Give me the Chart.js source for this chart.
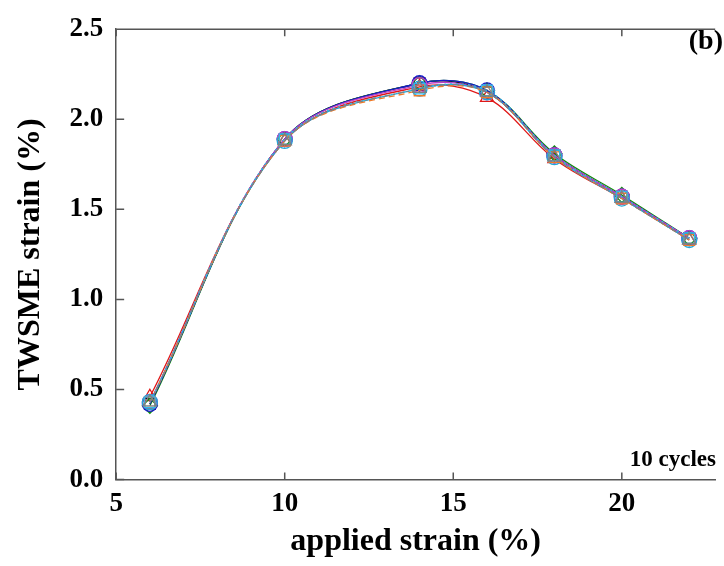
<!DOCTYPE html>
<html>
<head>
<meta charset="utf-8">
<script src="https://cdn.jsdelivr.net/npm/chart.js@4.4.1/dist/chart.umd.min.js"></script>
<style>
  body { margin: 0; background: #fff; }
  #wrap { width: 724px; height: 566px; }
</style>
</head>
<body>
<div id="wrap"><canvas id="chartTwsme" width="724" height="566"></canvas></div>
<script>
// applied strain (%) on x, TWSME strain (%) per sample
var appliedStrain = [6, 10, 14, 16, 18, 20, 22];
var twsmeGray    = [0.43, 1.88, 2.17, 2.15, 1.79, 1.56, 1.33];
var twsmeCyanSq  = [0.43, 1.89, 2.17, 2.16, 1.80, 1.57, 1.34];
var twsmeOrange  = [0.43, 1.88, 2.16, 2.15, 1.79, 1.56, 1.33];
var twsmeCyan    = [0.43, 1.88, 2.17, 2.15, 1.79, 1.56, 1.33];
var twsmeMagenta = [0.43, 1.89, 2.19, 2.15, 1.80, 1.57, 1.34];
var twsmeBlue    = [0.42, 1.89, 2.20, 2.16, 1.80, 1.57, 1.34];
var twsmeGreen   = [0.41, 1.89, 2.20, 2.16, 1.81, 1.58, 1.34];
var twsmeRed     = [0.46, 1.88, 2.18, 2.12, 1.78, 1.56, 1.33];
var twsmeBlack   = [0.42, 1.89, 2.20, 2.15, 1.80, 1.57, 1.34];
var xTicks = [5, 10, 15, 20];
var yTicks = [0, 0.5, 1.0, 1.5, 2.0, 2.5];

function pts(ys) {
  return appliedStrain.map(function (x, i) { return { x: x, y: ys[i] }; });
}

function series(ys, color, style, dash) {
  return {
    data: pts(ys),
    borderColor: color,
    pointBorderColor: color,
    backgroundColor: 'rgba(0,0,0,0)',
    pointBackgroundColor: 'rgba(0,0,0,0)',
    pointStyle: style,
    pointRadius: 7.5,
    pointBorderWidth: 1.3,
    borderWidth: 1.3,
    borderDash: dash || [],
    tension: 0.35,
    fill: false
  };
}

var serif = "'Liberation Serif', 'Times New Roman', serif";

// frame, inward ticks and in-plot labels
var framePlugin = {
  id: 'frame',
  afterDraw: function (chart) {
    var c = chart.ctx, a = chart.chartArea;
    var xs = chart.scales.x, ys = chart.scales.y;
    c.save();
    c.strokeStyle = '#555';
    c.lineWidth = 1.5;
    c.beginPath();
    c.moveTo(a.left, a.top);
    c.lineTo(a.right, a.top);
    xTicks.forEach(function (v) {
      var px = xs.getPixelForValue(v);
      c.moveTo(px, a.bottom); c.lineTo(px, a.bottom - 7);
      c.moveTo(px, a.top); c.lineTo(px, a.top + 7);
    });
    yTicks.forEach(function (v) {
      var py = ys.getPixelForValue(v);
      c.moveTo(a.left, py); c.lineTo(a.left + 8, py);
    });
    c.stroke();
    c.fillStyle = '#000';
    c.textAlign = 'right';
    c.textBaseline = 'middle';
    c.font = 'bold 28px ' + serif;
    c.fillText('(b)', 723, 42);
    c.font = 'bold 23px ' + serif;
    c.fillText('10 cycles', 716, 460);
    c.restore();
  }
};

var ctx = document.getElementById('chartTwsme').getContext('2d');
var chartTwsme = new Chart(ctx, {
  type: 'line',
  data: {
    datasets: [
      series(twsmeGray, '#808080', 'triangle', [6, 3, 2, 3]),
      series(twsmeCyanSq, '#35b6e8', 'rect', [2, 4]),
      series(twsmeOrange, '#f07a28', 'rect', [6, 4]),
      series(twsmeCyan, '#20a8d8', 'circle'),
      series(twsmeMagenta, '#c040c8', 'circle'),
      series(twsmeBlue, '#1a1acc', 'circle'),
      series(twsmeGreen, '#108a10', 'rectRot'),
      series(twsmeRed, '#e01818', 'triangle'),
      series(twsmeBlack, '#000000', 'rect')
    ]
  },
  options: {
    responsive: false,
    animation: false,
    events: [],
    layout: { padding: { left: 12, top: 16, right: 0, bottom: 4.6 } },
    plugins: { legend: { display: false }, tooltip: { enabled: false } },
    scales: {
      x: {
        type: 'linear',
        min: 5,
        max: 22.77,
        grid: { display: false, drawTicks: false },
        border: { display: true, color: '#555', width: 1.5 },
        ticks: {
          stepSize: 5,
          includeBounds: false,
          padding: 8,
          color: '#000',
          font: { family: serif, size: 27, weight: 'bold' }
        },
        title: {
          display: true,
          text: 'applied strain (%)',
          color: '#000',
          padding: { top: -5, bottom: 0 },
          font: { family: serif, size: 32, weight: 'bold' }
        }
      },
      y: {
        min: 0,
        max: 2.5,
        grid: { display: false, drawTicks: false },
        border: { display: true, color: '#555', width: 1.5 },
        ticks: {
          stepSize: 0.5,
          padding: 13,
          color: '#000',
          font: { family: serif, size: 27, weight: 'bold' },
          callback: function (v) { return v.toFixed(1); }
        },
        title: {
          display: true,
          text: 'TWSME strain (%)',
          color: '#000',
          padding: { top: 0, bottom: 6 },
          font: { family: serif, size: 32, weight: 'bold' }
        }
      }
    }
  },
  plugins: [framePlugin]
});
</script>
</body>
</html>
